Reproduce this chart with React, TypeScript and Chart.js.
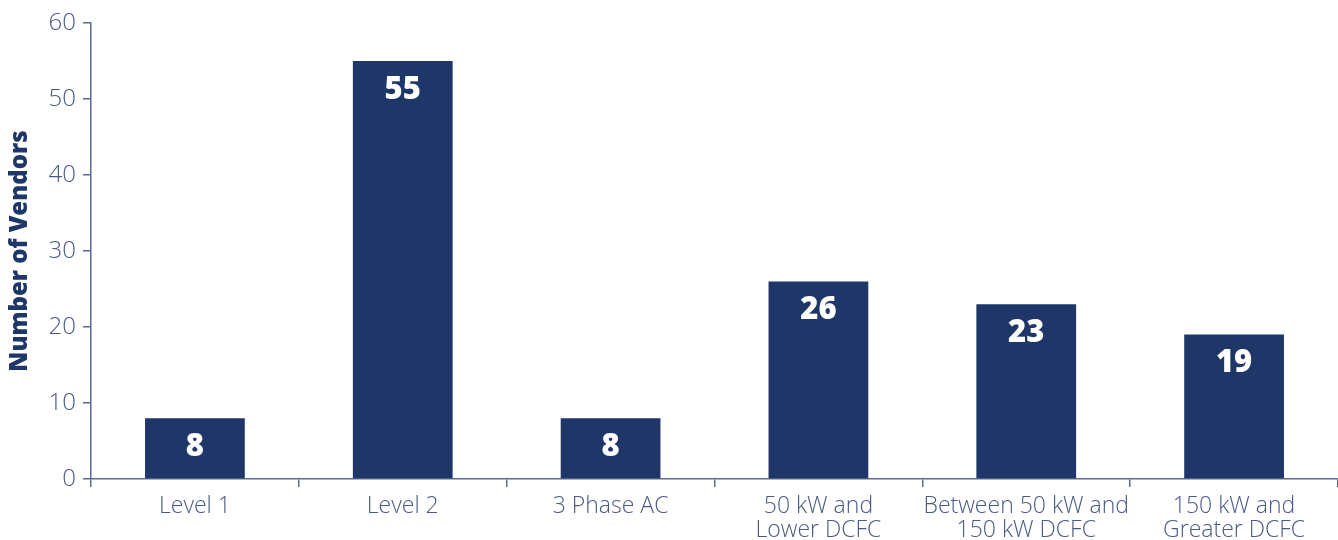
import React, { useEffect, useRef } from "react";
import { Chart, registerables } from "chart.js";

Chart.register(...registerables);

// Charger categories (multi-line labels) and vendor counts
const categories: (string | string[])[] = [
  "Level 1",
  "Level 2",
  "3 Phase AC",
  ["50 kW and", "Lower DCFC"],
  ["Between 50 kW and", "150 kW DCFC"],
  ["150 kW and", "Greater DCFC"],
];
const vendorCounts: number[] = [8, 55, 8, 26, 23, 19];
const yTicks: number[] = [0, 10, 20, 30, 40, 50, 60];

const BAR_COLOR = "#1f3668";
const AXIS_COLOR = "#5a6a93";
const TEXT_COLOR = "#4a5a86";
const FONT = "'Open Sans', 'Noto Sans', sans-serif";

// Draws each value in white near the top of its bar
const valueLabels = {
  id: "valueLabels",
  afterDatasetsDraw(chart: any) {
    const ctx = chart.ctx;
    const meta = chart.getDatasetMeta(0);
    ctx.save();
    ctx.fillStyle = "#ffffff";
    ctx.font = `800 31px ${FONT}`;
    ctx.textAlign = "center";
    ctx.textBaseline = "middle";
    meta.data.forEach((bar: any, i: number) => {
      ctx.fillText(String(vendorCounts[i]), bar.x, bar.y + 29);
    });
    ctx.restore();
  },
};

export default function App() {
  const canvasRef = useRef<HTMLCanvasElement | null>(null);

  useEffect(() => {
    document.body.style.margin = "0";
    const canvas = canvasRef.current;
    if (!canvas) return;
    const chart = new Chart(canvas, {
      type: "bar",
      data: {
        labels: categories,
        datasets: [
          {
            data: vendorCounts,
            backgroundColor: BAR_COLOR,
            borderWidth: 0,
            categoryPercentage: 1,
            barPercentage: 0.48,
          },
        ],
      },
      options: {
        responsive: false,
        animation: false,
        layout: { padding: { top: 23, right: 0, left: 0, bottom: 0 } },
        plugins: {
          legend: { display: false },
          tooltip: { enabled: false },
        },
        scales: {
          x: {
            offset: true,
            border: { display: true, color: AXIS_COLOR, width: 1.5 },
            grid: {
              offset: true,
              drawOnChartArea: false,
              drawTicks: true,
              tickLength: 8,
              color: AXIS_COLOR,
              lineWidth: 1.5,
            },
            ticks: {
              color: TEXT_COLOR,
              font: { family: FONT, size: 23, weight: 300, lineHeight: 1.05 },
              padding: 7,
              maxRotation: 0,
              autoSkip: false,
            },
            afterFit(scale: any) {
              scale.height = 61;
            },
          },
          y: {
            min: 0,
            max: 60,
            afterBuildTicks(scale: any) {
              scale.ticks = yTicks.map((v) => ({ value: v }));
            },
            border: { display: true, color: AXIS_COLOR, width: 1.5 },
            grid: {
              drawOnChartArea: false,
              drawTicks: true,
              tickLength: 8,
              color: AXIS_COLOR,
              lineWidth: 1.5,
            },
            ticks: {
              color: TEXT_COLOR,
              font: { family: FONT, size: 24, weight: 300 },
              padding: 7,
            },
            title: {
              display: true,
              text: "Number of Vendors",
              color: BAR_COLOR,
              font: { family: FONT, size: 24, weight: 800 },
              padding: { top: 6, bottom: 0 },
            },
            afterFit(scale: any) {
              scale.width = 91;
            },
          },
        },
      },
      plugins: [valueLabels],
    });
    return () => chart.destroy();
  }, []);

  return (
    <div style={{ width: 1338, height: 540 }}>
      <canvas ref={canvasRef} width={1338} height={540} />
    </div>
  );
}
